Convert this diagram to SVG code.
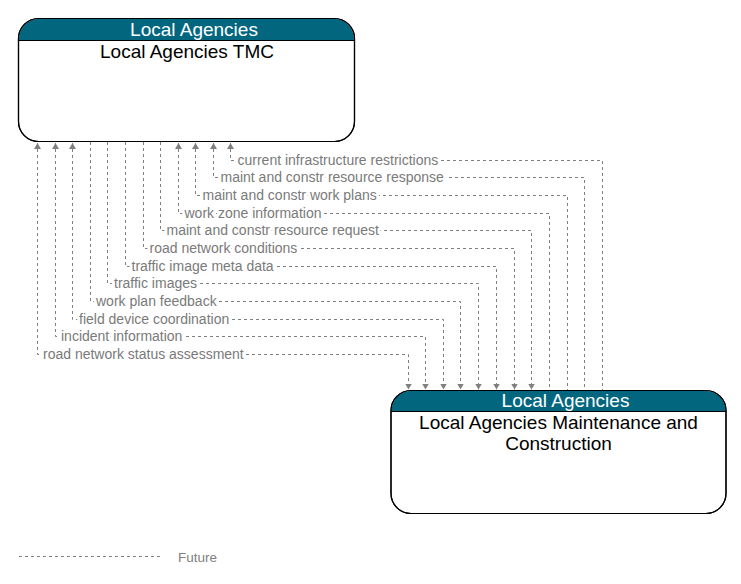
<svg xmlns="http://www.w3.org/2000/svg" width="741" height="584" viewBox="0 0 741 584">
<style>
.box{fill:#ffffff;stroke:#000000;stroke-width:1.2}
.hdr{fill:#02667f}
.hdrtxt{font-family:"Liberation Sans",Arial,sans-serif;font-size:19px;fill:#ffffff;text-anchor:middle}
.title{font-family:"Liberation Sans",Arial,sans-serif;font-size:19px;fill:#000000;text-anchor:middle}
.flow{fill:none;stroke:#808080;stroke-width:1;stroke-dasharray:3 3}
.lbl{font-family:"Liberation Sans",Arial,sans-serif;font-size:14px;fill:#7a7a7a;stroke:#ffffff;stroke-width:6;stroke-linejoin:round;paint-order:stroke}
.legend{font-family:"Liberation Sans",Arial,sans-serif;font-size:13.5px;fill:#808080}
</style>
<defs>
<marker id="arr" markerUnits="userSpaceOnUse" markerWidth="7" markerHeight="7" refX="6" refY="3.5" orient="auto-start-reverse">
<path d="M0,0 L6,3.5 L0,7 z" fill="#808080"/>
</marker>
</defs>
<rect width="741" height="584" fill="#ffffff"/>

<g id="connectors">
<path class="flow" d="M37.5,143 V354.5 H408.5 V389.5" marker-start="url(#arr)" marker-end="url(#arr)"/>
<path class="flow" d="M55.5,143 V336.5 H425.5 V389.5" marker-start="url(#arr)" marker-end="url(#arr)"/>
<path class="flow" d="M72.5,143 V319.5 H443.5 V389.5" marker-start="url(#arr)" marker-end="url(#arr)"/>
<path class="flow" d="M90.5,142 V301.5 H460.5 V389.5" marker-end="url(#arr)"/>
<path class="flow" d="M107.5,142 V283.5 H478.5 V389.5" marker-end="url(#arr)"/>
<path class="flow" d="M125.5,142 V266.5 H496.5 V389.5" marker-end="url(#arr)"/>
<path class="flow" d="M143.5,142 V248.5 H514.5 V389.5" marker-end="url(#arr)"/>
<path class="flow" d="M160.5,142 V230.5 H531.5 V389.5" marker-end="url(#arr)"/>
<path class="flow" d="M178.5,143 V213.5 H549.5 V390" marker-start="url(#arr)"/>
<path class="flow" d="M195.5,143 V195.5 H567.5 V390" marker-start="url(#arr)"/>
<path class="flow" d="M213.5,143 V177.5 H584.5 V390" marker-start="url(#arr)"/>
<path class="flow" d="M230.5,143 V160.5 H602.5 V390" marker-start="url(#arr)"/>

<text class="lbl" x="43" y="359">road network status assessment</text>
<text class="lbl" x="61" y="341">incident information</text>
<text class="lbl" x="79" y="324">field device coordination</text>
<text class="lbl" x="96" y="306">work plan feedback</text>
<text class="lbl" x="114" y="288">traffic images</text>
<text class="lbl" x="131.5" y="271">traffic image meta data</text>
<text class="lbl" x="149.5" y="253">road network conditions</text>
<text class="lbl" x="166.5" y="235">maint and constr resource request</text>
<text class="lbl" x="184.5" y="218">work zone information</text>
<text class="lbl" x="202.5" y="200">maint and constr work plans</text>
<text class="lbl" x="220.5" y="182">maint and constr resource response</text>
<text class="lbl" x="237.5" y="165">current infrastructure restrictions</text>
</g>

<g id="node-tmc">
<rect class="box" x="18.5" y="18.5" width="336" height="123" rx="20" ry="20"/>
<path class="hdr" d="M38.5,19.1 H334.5 A19.4,19.4 0 0 1 353.9,38.5 V40 H19.1 V38.5 A19.4,19.4 0 0 1 38.5,19.1 Z"/>
<line x1="18.5" y1="40.5" x2="354.5" y2="40.5" stroke="#000" stroke-width="1"/>
<rect x="18.5" y="18.5" width="336" height="123" rx="20" ry="20" fill="none" stroke="#000" stroke-width="1.2"/>
<text class="hdrtxt" x="194" y="36">Local Agencies</text>
<text class="title" x="187" y="58">Local Agencies TMC</text>
</g>

<g id="node-mc">
<rect class="box" x="391" y="390.5" width="335" height="123" rx="20" ry="20"/>
<path class="hdr" d="M411,391.1 H706 A19.4,19.4 0 0 1 725.4,410.5 V411.5 H391.6 V410.5 A19.4,19.4 0 0 1 411,391.1 Z"/>
<line x1="391" y1="411.5" x2="726" y2="411.5" stroke="#000" stroke-width="1"/>
<rect x="391" y="390.5" width="335" height="123" rx="20" ry="20" fill="none" stroke="#000" stroke-width="1.2"/>
<text class="hdrtxt" x="565.5" y="407">Local Agencies</text>
<text class="title" x="558.5" y="428.5">Local Agencies Maintenance and</text>
<text class="title" x="558.5" y="449.5">Construction</text>
</g>

<g id="legend">
<line class="flow" x1="19" y1="556.5" x2="161" y2="556.5"/>
<text class="legend" x="178" y="561.5">Future</text>
</g>
</svg>
